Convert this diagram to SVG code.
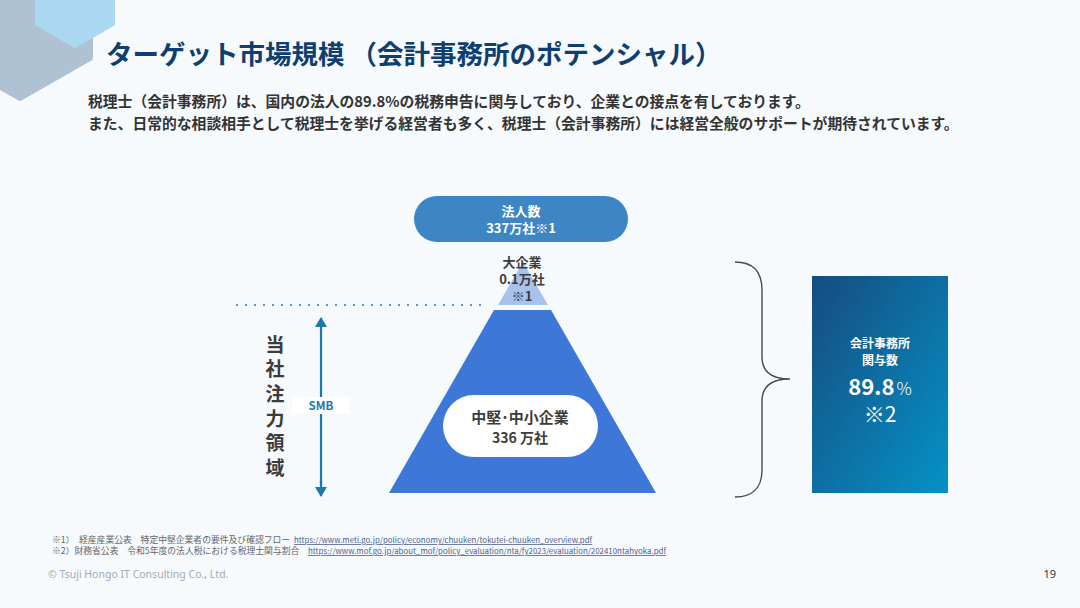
<svg xmlns="http://www.w3.org/2000/svg" width="1080" height="608" viewBox="0 0 1080 608">
<defs>
<style>
.jp{font-family:"Noto Sans CJK JP","Noto Sans",sans-serif}
.title{font-size:26.5px;font-weight:700;fill:#0F3F70}
.body{font-size:14.8px;font-weight:700;fill:#333}
.dark{fill:#3c3c3c;font-weight:700}
.wt{fill:#fff;font-weight:700}
.fn{font-size:8.8px;fill:#666}
.url{font-size:7.9px;fill:#4F5F8C;text-decoration:underline}
</style>
<linearGradient id="g1" x1="0" y1="0" x2="1" y2="1">
<stop offset="0" stop-color="#164C80"/>
<stop offset="1" stop-color="#0592C6"/>
</linearGradient>
<marker id="ah" viewBox="0 0 10 12" refX="9" refY="6" markerWidth="10" markerHeight="12" markerUnits="userSpaceOnUse" orient="auto">
<path d="M0,0 L10,6 L0,12 Z" fill="#1B79AE"/>
</marker>
</defs>
<rect width="1080" height="608" fill="#F6FAFD"/>
<g id="decor">
<polygon points="20,-62 90,-21 90,58 20,98 -50,58 -50,-21" fill="#AFC2D3" stroke="#AFC2D3" stroke-width="6" stroke-linejoin="round"/>
<polygon points="75,-44 113,-22 113,24 75,46 37,24 37,-22" fill="#A9D8F0" stroke="#A9D8F0" stroke-width="4" stroke-linejoin="round"/>
</g>
<g id="title"><text class="jp title" x="106" y="64">ターゲット市場規模 （会計事務所のポテンシャル）</text></g>
<g id="intro" class="jp body">
<text x="88" y="107">税理士（会計事務所）は、国内の法人の89.8%の税務申告に関与しており、企業との接点を有しております。</text>
<text x="88" y="129">また、日常的な相談相手として税理士を挙げる経営者も多く、税理士（会計事務所）には経営全般のサポートが期待されています。</text>
</g>
<g id="pill-houjin">
<rect x="414" y="196" width="214" height="46" rx="23" fill="#3D86C6"/>
<text class="jp wt" font-size="13" x="521" y="216" text-anchor="middle">法人数</text>
<text class="jp wt" font-size="13" x="521" y="233" text-anchor="middle">337万社※1</text>
</g>
<g id="large-ent">
<polygon points="523,262 548,305 498,305" fill="#A7C3EC"/>
<text class="jp dark" font-size="13" x="522" y="267" text-anchor="middle">大企業</text>
<text class="jp dark" font-size="13" x="522" y="284" text-anchor="middle">0.1万社</text>
<text class="jp dark" font-size="13" x="522" y="301" text-anchor="middle">※1</text>
</g>
<g id="smb-pyramid">
<polygon points="494,310 551,310 656,493 389,493" fill="#3D78D8"/>
<rect x="443" y="395" width="155" height="62" rx="31" fill="#fff"/>
<text class="jp dark" font-size="15" x="520" y="423" text-anchor="middle">中堅･中小企業</text>
<text class="jp dark" font-size="14" x="520" y="443" text-anchor="middle">336 万社</text>
</g>
<g id="connectors">
<line x1="237" y1="305" x2="484" y2="305" stroke="#2E86BE" stroke-width="2.2" stroke-dasharray="0 9" stroke-linecap="round"/>
<line x1="321" y1="330" x2="321" y2="318" stroke="#1B79AE" stroke-width="2.2" marker-end="url(#ah)"/>
<line x1="321" y1="330" x2="321" y2="484" stroke="#1B79AE" stroke-width="2.2"/>
<line x1="321" y1="480" x2="321" y2="496" stroke="#1B79AE" stroke-width="2.2" marker-end="url(#ah)"/>
<path d="M735,262 C752,262 762,270 762,290 L762,357 C762,372 772,379 790,379 C772,379 762,386 762,401 L762,470 C762,488 752,497 735,497" fill="none" stroke="#4a4a4a" stroke-width="1.4"/>
</g>
<g id="smb-label">
<rect x="292" y="397" width="58" height="17" fill="#fff"/>
<text class="jp" font-size="11.5" font-weight="700" fill="#1B79AE" x="321" y="410" text-anchor="middle">SMB</text>
</g>
<g id="focus">
<text class="jp dark" font-size="19" x="275" y="335" writing-mode="vertical-rl" letter-spacing="5.6">当社注力領域</text>
</g>
<g id="share-box">
<rect x="812" y="276" width="136" height="217" fill="url(#g1)"/>
<text class="jp wt" font-size="12" x="880" y="348" text-anchor="middle">会計事務所</text>
<text class="jp wt" font-size="12" x="880" y="365" text-anchor="middle">関与数</text>
<text class="jp" x="880" y="395" text-anchor="middle" fill="#fff"><tspan font-size="22" font-weight="700">89.8</tspan><tspan font-size="17" font-weight="300" dx="2">%</tspan></text>
<text class="jp" font-size="21" x="880" y="422" text-anchor="middle" fill="#fff">※2</text>
</g>
<g id="footnotes">
<text class="jp fn" x="52" y="543">※1）</text>
<text class="jp fn" x="79" y="543">経産産業公表　特定中堅企業者の要件及び確認フロー</text>
<text class="jp url" x="294" y="543">https://www.meti.go.jp/policy/economy/chuuken/tokutei-chuuken_overview.pdf</text>
<text class="jp fn" x="52" y="554">※2）財務省公表　令和5年度の法人税における税理士関与割合</text>
<text class="jp url" x="308" y="554">https://www.mof.go.jp/about_mof/policy_evaluation/nta/fy2023/evaluation/202410ntahyoka.pdf</text>
</g>
<g id="footer">
<text font-family="Noto Sans, sans-serif" font-size="10.5" fill="#A3AAB2" x="48" y="578">© Tsuji Hongo IT Consulting Co., Ltd.</text>
<text font-family="Noto Sans, sans-serif" font-size="11" fill="#333" x="1056" y="578" text-anchor="end">19</text>
</g>
</svg>
